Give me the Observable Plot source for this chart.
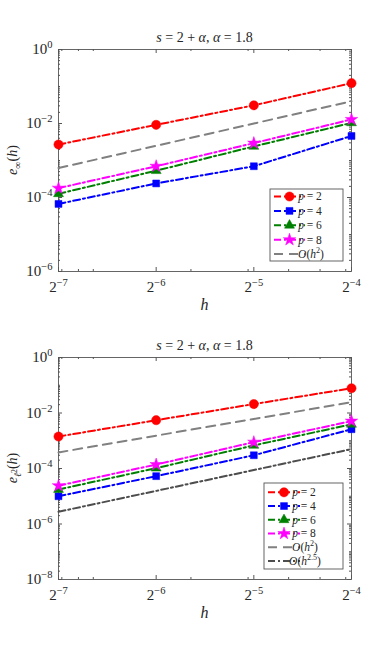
<!DOCTYPE html>
<html><head><meta charset="utf-8">
<script src="https://cdn.jsdelivr.net/npm/d3@7"></script>
<script src="https://cdn.jsdelivr.net/npm/@observablehq/plot@0.6"></script>
<style>
body{margin:0;background:#fff;}
#c svg{display:block;}
</style>
</head><body><div id="c"></div>
<script>
// ---- data ----
const hValues = [0.0078125, 0.015625, 0.03125, 0.0625];
const hTickLabels = ["2^−7", "2^−6", "2^−5", "2^−4"];
const hMinorTicks = [0.008, 0.009, 0.01, 0.02, 0.03, 0.04, 0.05, 0.06];

const seriesNames = ["p = 2", "p = 4", "p = 6", "p = 8"];

// e_inf(h)
const infP2 = [2.7e-3, 9.2e-3, 3.1e-2, 0.123];
const infP4 = [6.7e-5, 2.4e-4, 7.0e-4, 4.6e-3];
const infP6 = [1.26e-4, 5.3e-4, 2.4e-3, 1.04e-2];
const infP8 = [1.79e-4, 7.0e-4, 2.95e-3, 1.29e-2];
const infRefH2 = [6.25e-4, 2.5e-3, 1.0e-2, 4.0e-2];

// e_l2(h)
const l2P2 = [1.42e-3, 5.5e-3, 2.1e-2, 7.8e-2];
const l2P4 = [1.0e-5, 5.3e-5, 3.0e-4, 2.6e-3];
const l2P6 = [1.75e-5, 1.03e-4, 6.8e-4, 3.9e-3];
const l2P8 = [2.4e-5, 1.39e-4, 8.9e-4, 5.1e-3];
const l2RefH2 = [3.8e-4, 1.53e-3, 6.1e-3, 2.45e-2];
const l2RefH25 = [2.76e-6, 1.56e-5, 8.8e-5, 5.0e-4];

const topYTicks = [1, 1e-2, 1e-4, 1e-6];
const topYLabels = ["10^0", "10^−2", "10^−4", "10^−6"];
const botYTicks = [1, 1e-2, 1e-4, 1e-6, 1e-8];
const botYLabels = ["10^0", "10^−2", "10^−4", "10^−6", "10^−8"];

// ---- styles ----
const RED = "#ff0000", BLUE = "#0000ff", GREEN = "#008000", MAG = "#ff00ff";
const GRAY = "#808080", DGRAY = "#4d4d4d";
const DASHDOT = "7,3,2,3";
const DASH = "9,6";
const FONT = "Liberation Serif, DejaVu Serif, serif";
const TICKFS = 15;
const styles = [
  {color: RED, symbol: "circle", r: 4.6},
  {color: BLUE, symbol: "square", r: 3.9},
  {color: GREEN, symbol: "triangle", r: 3.7},
  {color: MAG, symbol: "star", r: 3.9}
];

const W = 389, H = 325, ML = 58, MR = 38;
const innerW = W - ML - MR;

function rows(vals) { return hValues.map((h, i) => ({h, v: vals[i]})); }

function minorY(lo, hi, majors) {
  const out = [];
  for (let e = lo; e < hi; e++) for (let k = 1; k <= 9; k++) {
    const v = k * Math.pow(10, e);
    if (!majors.some(m => Math.abs(m - v) / v < 1e-9)) out.push(v);
  }
  return out;
}

function supify(svg, size) {
  d3.select(svg).selectAll("text").each(function() {
    const t = d3.select(this);
    if (this.querySelector("tspan")) return;
    const s = this.textContent;
    const m = s.match(/^([^\^]+)\^(.+)$/);
    if (!m) return;
    t.text(null);
    t.attr("font-family", FONT).attr("font-size", size);
    t.append("tspan").text(m[1]);
    t.append("tspan").attr("dy", -size * 0.42).attr("font-size", size * 0.7).text(m[2]);
  });
}

function rich(g, x, y, parts, attrs, base) {
  const t = g.append("text").attr("x", x).attr("y", y)
    .attr("font-family", FONT).attr("font-size", base).attr("fill", "#262626")
    .style("white-space", "pre");
  for (const k in attrs) t.attr(k, attrs[k]);
  let shift = 0;
  for (const [s, o = {}] of parts) {
    const ts = t.append("tspan").text(s);
    if (o.i) ts.attr("font-style", "italic");
    let target = 0, fs = base;
    if (o.sup) { target = -base * 0.42; fs = base * 0.7; }
    if (o.sub) { target = base * 0.28; fs = base * 0.72; }
    if (o.subsup) { target = -base * 0.02; fs = base * 0.55; }
    if (fs !== base) ts.attr("font-size", fs);
    if (target !== shift) { ts.attr("dy", target - shift); shift = target; }
  }
  return t;
}

function chart(cfg) {
  const innerH = H - cfg.mt - cfg.mb;
  const majY = cfg.yTicks;
  const minY = minorY(cfg.yLo, 0, majY);
  const marks = [
    Plot.frame({stroke: "#555", strokeWidth: 0.9}),
    Plot.tickX(hValues, {x: d => d, insetTop: innerH - 4, stroke: "#555"}),
    Plot.tickX(hValues, {x: d => d, insetBottom: innerH - 4, stroke: "#555"}),
    Plot.tickX(hMinorTicks, {x: d => d, insetTop: innerH - 2, stroke: "#555"}),
    Plot.tickX(hMinorTicks, {x: d => d, insetBottom: innerH - 2, stroke: "#555"}),
    Plot.tickY(majY, {y: d => d, insetRight: innerW - 4, stroke: "#555"}),
    Plot.tickY(majY, {y: d => d, insetLeft: innerW - 4, stroke: "#555"}),
    Plot.tickY(minY, {y: d => d, insetRight: innerW - 2, stroke: "#555"}),
    Plot.tickY(minY, {y: d => d, insetLeft: innerW - 2, stroke: "#555"}),
    Plot.axisX(hValues, {tickSize: 0, tickPadding: 10, tickFormat: d => hTickLabels[hValues.indexOf(d)], fontSize: TICKFS, label: null}),
    Plot.axisY(majY, {tickSize: 0, tickPadding: 6, tickFormat: d => cfg.yLabels[majY.indexOf(d)], fontSize: TICKFS, label: null})
  ];
  cfg.series.forEach((vals, i) => {
    const st = styles[i];
    marks.push(Plot.line(rows(vals), {x: "h", y: "v", stroke: st.color, strokeWidth: 2, strokeDasharray: DASHDOT}));
    marks.push(Plot.dot(rows(vals), {x: "h", y: "v", symbol: st.symbol, r: st.r, fill: st.color, stroke: st.color, strokeWidth: 0.5}));
  });
  cfg.refs.forEach(r => {
    marks.push(Plot.line(rows(r.vals), {x: "h", y: "v", stroke: r.color, strokeWidth: 2, strokeDasharray: r.dash}));
  });
  const svg = Plot.plot({
    width: W, height: H,
    marginLeft: ML, marginRight: MR, marginTop: cfg.mt, marginBottom: cfg.mb,
    style: {fontFamily: FONT, fontSize: TICKFS + "px", color: "#262626", background: "white"},
    x: {type: "log", base: 2, domain: [hValues[0], hValues[3]], axis: null},
    y: {type: "log", domain: [Math.pow(10, cfg.yLo), 1], axis: null},
    marks
  });
  supify(svg, TICKFS);
  const g = d3.select(svg).append("g");
  // title
  rich(g, ML + innerW / 2, cfg.mt - 7, [["s", {i: true}], ["\u00a0=\u00a02\u00a0+\u00a0"], ["α", {i: true}], [",\u00a0"], ["α", {i: true}], ["\u00a0=\u00a01.8"]], {"text-anchor": "middle"}, 14);
  // x label
  rich(g, ML + innerW / 2, H - cfg.mb + 39, [["h", {i: true}]], {"text-anchor": "middle"}, 16);
  // y label
  const yl = rich(g, 0, 0, cfg.ylabel, {"text-anchor": "middle"}, 14);
  yl.attr("transform", `translate(17,${cfg.mt + innerH / 2}) rotate(-90)`);
  // legend
  const L = cfg.legend;
  const lg = d3.select(svg).append("g");
  lg.append("rect").attr("x", L.x).attr("y", L.y).attr("width", L.w).attr("height", L.h)
    .attr("fill", "white").attr("stroke", "#555").attr("stroke-width", 0.9);
  const items = cfg.series.map((_, i) => ({kind: "s", i})).concat(cfg.refs.map(r => ({kind: "r", r})));
  items.forEach((it, k) => {
    const y = L.y0 + k * L.dy;
    if (it.kind === "s") {
      const st = styles[it.i];
      lg.append("line").attr("x1", L.lx1).attr("x2", L.lx2).attr("y1", y).attr("y2", y)
        .attr("stroke", st.color).attr("stroke-width", 2).attr("stroke-dasharray", DASHDOT);
      const symType = {circle: d3.symbolCircle, square: d3.symbolSquare, triangle: d3.symbolTriangle, star: d3.symbolStar}[st.symbol];
      lg.append("path").attr("d", d3.symbol(symType, Math.PI * st.r * st.r)())
        .attr("transform", `translate(${(L.lx1 + L.lx2) / 2},${y})`).attr("fill", st.color).attr("stroke", st.color).attr("stroke-width", 0.5);
      rich(lg, L.tx, y + 3.8, [["p", {i: true}], ["\u00a0=\u00a0" + seriesNames[it.i].split("= ")[1]]], {}, 11.5);
    } else {
      lg.append("line").attr("x1", L.lx1).attr("x2", L.lx2).attr("y1", y).attr("y2", y)
        .attr("stroke", it.r.color).attr("stroke-width", 2).attr("stroke-dasharray", it.r.dash);
      rich(lg, L.tx + 1, y + 3.8, it.r.label, {}, 11.5);
    }
  });
  return svg;
}

const c = document.getElementById("c");
c.appendChild(chart({
  mt: 49, mb: 54, yLo: -6, yTicks: topYTicks, yLabels: topYLabels,
  series: [infP2, infP4, infP6, infP8],
  refs: [{vals: infRefH2, color: GRAY, dash: DASH, label: [["O", {i: true}], ["("], ["h", {i: true}], ["2", {sup: true}], [")"]]}],
  ylabel: [["e", {i: true}], ["∞", {sub: true}], ["("], ["h", {i: true}], [")"]],
  legend: {x: 270, y: 189, w: 73, h: 72, y0: 196.5, dy: 14.4, lx1: 274, lx2: 305, tx: 310}
}));
c.appendChild(chart({
  mt: 32, mb: 71, yLo: -8, yTicks: botYTicks, yLabels: botYLabels,
  series: [l2P2, l2P4, l2P6, l2P8],
  refs: [
    {vals: l2RefH2, color: GRAY, dash: DASH, label: [["O", {i: true}], ["("], ["h", {i: true}], ["2", {sup: true}], [")"]]},
    {vals: l2RefH25, color: DGRAY, dash: DASHDOT, label: [["O", {i: true}], ["("], ["h", {i: true}], ["2.5", {sup: true}], [")"]]}
  ],
  ylabel: [["e", {i: true}], ["ℓ", {sub: true, i: true}], ["2", {subsup: true}], ["("], ["h", {i: true}], [")"]],
  legend: {x: 264, y: 158, w: 79, h: 86, y0: 167.3, dy: 13.75, lx1: 268, lx2: 300, tx: 304}
}));
</script>
</body></html>
